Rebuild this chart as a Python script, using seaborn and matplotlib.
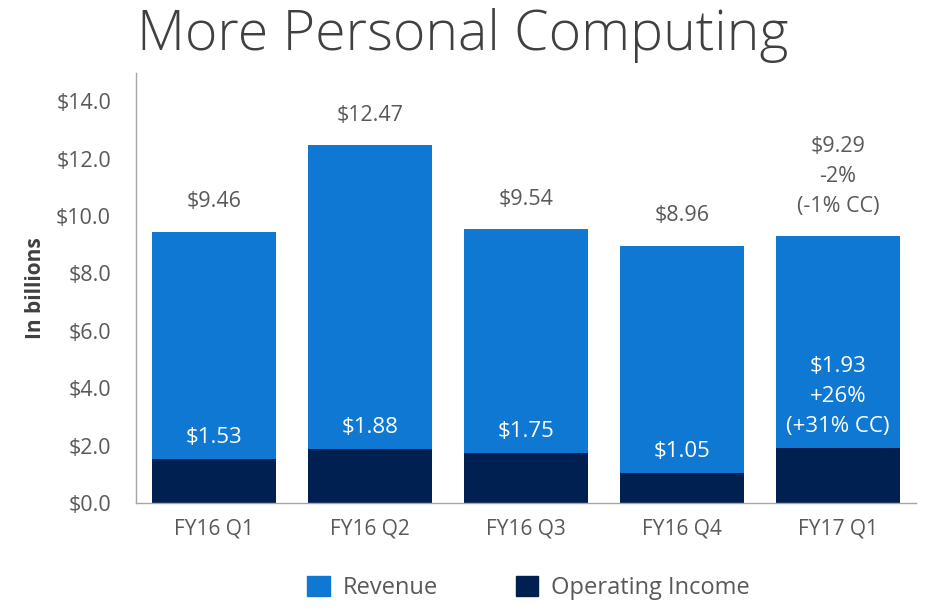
import pandas as pd
import numpy as np
import matplotlib.pyplot as plt
import seaborn as sns
from matplotlib.patches import Patch

# -------------------------------
# DATA
# -------------------------------
quarters = ['FY16 Q1', 'FY16 Q2', 'FY16 Q3', 'FY16 Q4', 'FY17 Q1']
revenue = [9.46, 12.47, 9.54, 8.96, 9.29]
op_income = [1.53, 1.88, 1.75, 1.05, 1.93]
revenue_labels = ['$9.46', '$12.47', '$9.54', '$8.96', '$9.29\n-2%\n(-1% CC)']
income_labels = ['$1.53', '$1.88', '$1.75', '$1.05', '$1.93\n+26%\n(+31% CC)']
y_ticks = [0, 2, 4, 6, 8, 10, 12, 14]

df = pd.DataFrame({'Quarter': quarters, 'Revenue': revenue, 'Operating Income': op_income})

rev_color = '#0F78D2'
inc_color = '#002052'
text_gray = '#595959'

sns.set_theme(style='white')
plt.rcParams['font.family'] = ['Open Sans', 'DejaVu Sans']

fig = plt.figure(figsize=(9.29, 6.10), dpi=100)
ax = fig.add_axes([0.1464, 0.1754, 0.986 - 0.1464, 0.881 - 0.1754])

sns.barplot(data=df, x='Quarter', y='Revenue', color=rev_color, width=0.8,
            saturation=1, linewidth=0, ax=ax)
sns.barplot(data=df, x='Quarter', y='Operating Income', color=inc_color, width=0.8,
            saturation=1, linewidth=0, ax=ax)

# labels above revenue bars
for i, (v, lab) in enumerate(zip(revenue, revenue_labels)):
    ax.annotate(lab, (i, v), xytext=(0, 14), textcoords='offset points',
                ha='center', va='bottom', fontsize=15.5, color=text_gray,
                linespacing=1.55)

# labels above income bars (inside revenue)
for i, (v, lab) in enumerate(zip(op_income, income_labels)):
    ax.annotate(lab, (i, v), xytext=(0, 8), textcoords='offset points',
                ha='center', va='bottom', fontsize=16, color='white',
                linespacing=1.55)

ax.set_xlim(-0.5, 4.5)
ax.set_ylim(0, 15)
ax.set_yticks(y_ticks)
ax.set_yticklabels([f'${t:.1f}' for t in y_ticks])
ax.tick_params(axis='y', length=0, labelsize=15.5, labelcolor=text_gray, pad=18)
ax.tick_params(axis='x', length=0, labelsize=15, labelcolor=text_gray, pad=11)
ax.set_xlabel('')
ax.set_ylabel('In billions', fontsize=15, fontweight='bold', color='#404040', labelpad=7)

for s in ['top', 'right']:
    ax.spines[s].set_visible(False)
for s in ['left', 'bottom']:
    ax.spines[s].set_color('#A6A6A6')
    ax.spines[s].set_linewidth(1.0)

fig.text(0.498, 1 - 50 / 610, 'More Personal Computing', ha='center', va='baseline',
         fontsize=40, fontweight='light', color='#404040')

handles = [Patch(color=rev_color, label='Revenue'),
           Patch(color=inc_color, label='Operating Income')]
fig.legend(handles=handles, loc='center', bbox_to_anchor=(0.569, 0.036), ncol=2,
           frameon=False, fontsize=17, handlelength=0.95, handleheight=0.95,
           columnspacing=3.3, labelcolor=text_gray, handletextpad=0.55)

fig.savefig('out.png', dpi=100)
